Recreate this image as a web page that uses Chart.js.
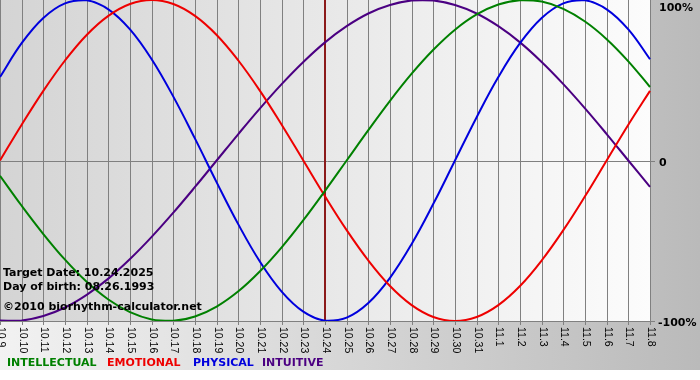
<!DOCTYPE html>
<html><head><meta charset="utf-8">
<script src="https://cdn.jsdelivr.net/npm/chart.js@4.4.1/dist/chart.umd.min.js"></script>
<style>html,body{margin:0;padding:0;background:#fff;}#wrap{width:700px;height:380px;}</style>
</head><body><div id="wrap"><canvas id="c" width="700" height="380"></canvas></div>
<script>
const days = ['10.9','10.10','10.11','10.12','10.13','10.14','10.15','10.16','10.17','10.18','10.19','10.20','10.21','10.22','10.23','10.24','10.25','10.26','10.27','10.28','10.29','10.30','10.31','11.1','11.2','11.3','11.4','11.5','11.6','11.7','11.8'];
const intellectual = [-9.5,-28.2,-45.8,-61.8,-75.6,-86.6,-94.5,-99.0,-99.9,-97.2,-91.0,-81.5,-69.0,-54.1,-37.2,-18.9,0,18.9,37.2,54.1,69.0,81.5,91.0,97.2,99.9,99.0,94.5,86.6,75.6,61.8,45.8];
const emotional = [0,22.3,43.4,62.3,78.2,90.1,97.5,100,97.5,90.1,78.2,62.3,43.4,22.3,0,-22.3,-43.4,-62.3,-78.2,-90.1,-97.5,-100,-97.5,-90.1,-78.2,-62.3,-43.4,-22.3,0,22.3,43.4];
const physical = [52.0,73.1,88.8,97.9,99.8,94.2,81.7,63.1,39.8,13.6,-13.6,-39.8,-63.1,-81.7,-94.2,-99.8,-97.9,-88.8,-73.1,-52.0,-27.0,0,27.0,52.0,73.1,88.8,97.9,99.8,94.2,81.7,63.1];
const intuitive = [-99.7,-99.7,-96.9,-91.6,-83.7,-73.6,-61.4,-47.6,-32.5,-16.5,0,16.5,32.5,47.6,61.4,73.6,83.7,91.6,96.9,99.7,99.7,96.9,91.6,83.7,73.6,61.4,47.6,32.5,16.5,0,-16.5];
const yTicks = [100, 0, -100];
const yTickLabels = ['100%', '0', '-100%'];
const targetDay = '10.24';
const infoLines = ['Target Date: 10.24.2025', 'Day of birth: 08.26.1993', '\u00A92010 biorhythm-calculator.net'];

const BOLD = 'bold 11px "DejaVu Sans", Verdana, sans-serif';
const TICKFONT = '10.5px "Liberation Sans Narrow", "Arial Narrow", "Liberation Sans", Arial, sans-serif';

const deco = {
  id: 'deco',
  beforeDraw(chart) {
    const ctx = chart.ctx, a = chart.chartArea;
    ctx.save();
    ctx.fillStyle = '#ffffff';
    ctx.fillRect(0, 0, chart.width, chart.height);
    let g = ctx.createLinearGradient(0, 0, chart.width, 0);
    g.addColorStop(0, '#f2f2f2');
    g.addColorStop(1, '#bababa');
    ctx.fillStyle = g;
    ctx.fillRect(0, 0, chart.width, 370);
    g = ctx.createLinearGradient(a.left, 0, a.right, 0);
    g.addColorStop(0, '#d4d4d4');
    g.addColorStop(1, '#fcfcfc');
    ctx.fillStyle = g;
    ctx.fillRect(a.left, a.top, a.right - a.left, a.bottom - a.top);
    ctx.restore();
  },
  beforeDatasetsDraw(chart) {
    const ctx = chart.ctx, a = chart.chartArea, xs = chart.scales.x, ys = chart.scales.y;
    ctx.save();
    ctx.strokeStyle = '#808080';
    ctx.lineWidth = 1;
    ctx.beginPath();
    days.forEach((d, i) => {
      const x = Math.round(xs.getPixelForValue(i)) + 0.5;
      ctx.moveTo(x, a.top);
      ctx.lineTo(x, a.bottom + 4);
    });
    const y0 = Math.round(ys.getPixelForValue(0)) + 0.5;
    ctx.moveTo(a.left, y0); ctx.lineTo(a.right + 5, y0);
    const yb = Math.round(ys.getPixelForValue(-100)) + 0.5;
    ctx.moveTo(a.left, yb); ctx.lineTo(a.right + 5, yb);
    ctx.stroke();
    // target marker
    const xt = xs.getPixelForValue(days.indexOf(targetDay));
    ctx.strokeStyle = '#8b1a1a';
    ctx.lineWidth = 2;
    ctx.beginPath();
    ctx.moveTo(Math.round(xt), a.top);
    ctx.lineTo(Math.round(xt), a.bottom);
    ctx.stroke();
    ctx.restore();
  },
  afterDatasetsDraw(chart) {
    const ctx = chart.ctx, a = chart.chartArea, xs = chart.scales.x, ys = chart.scales.y;
    ctx.save();
    ctx.fillStyle = '#000';
    ctx.font = BOLD;
    ctx.textBaseline = 'alphabetic';
    ctx.textAlign = 'left';
    const infoY = [276, 290, 310];
    infoLines.forEach((t, i) => ctx.fillText(t, 3, infoY[i]));
    // right labels
    const yOff = [10, 5, 5];
    yTicks.forEach((v, i) => {
      let y = ys.getPixelForValue(v);
      if (i === 0) y = a.top + 11; else y = y + 5;
      ctx.fillText(yTickLabels[i], i === 2 ? 658 : 659, y);
    });
    // x tick labels rotated
    ctx.font = TICKFONT;
    ctx.textBaseline = 'middle';
    days.forEach((d, i) => {
      const x = xs.getPixelForValue(i);
      ctx.save();
      ctx.translate(x + 1, a.bottom + 6);
      ctx.rotate(Math.PI / 2);
      ctx.fillText(d, 0, 0);
      ctx.restore();
    });
    // legend
    ctx.font = BOLD;
    ctx.textBaseline = 'alphabetic';
    const lx = [7, 107, 193, 262];
    chart.data.datasets.forEach((ds, i) => {
      ctx.fillStyle = ds.borderColor;
      ctx.fillText(ds.label, lx[i], 366);
    });
    ctx.restore();
  }
};

new Chart(document.getElementById('c'), {
  type: 'line',
  data: {
    labels: days,
    datasets: [
      { label: 'INTELLECTUAL', data: intellectual, borderColor: '#008000' },
      { label: 'EMOTIONAL', data: emotional, borderColor: '#ee0000' },
      { label: 'PHYSICAL', data: physical, borderColor: '#0000dd' },
      { label: 'INTUITIVE', data: intuitive, borderColor: '#4b0082' }
    ].map(d => Object.assign(d, { borderWidth: 2, pointRadius: 0, tension: 0.4, fill: false }))
  },
  options: {
    responsive: false,
    animation: false,
    devicePixelRatio: 1,
    layout: { padding: { left: 0, right: 50, top: 0, bottom: 59 } },
    scales: {
      x: { display: false },
      y: { display: false, min: -100, max: 100 }
    },
    plugins: { legend: { display: false }, tooltip: { enabled: false } }
  },
  plugins: [deco]
});
</script></body></html>
